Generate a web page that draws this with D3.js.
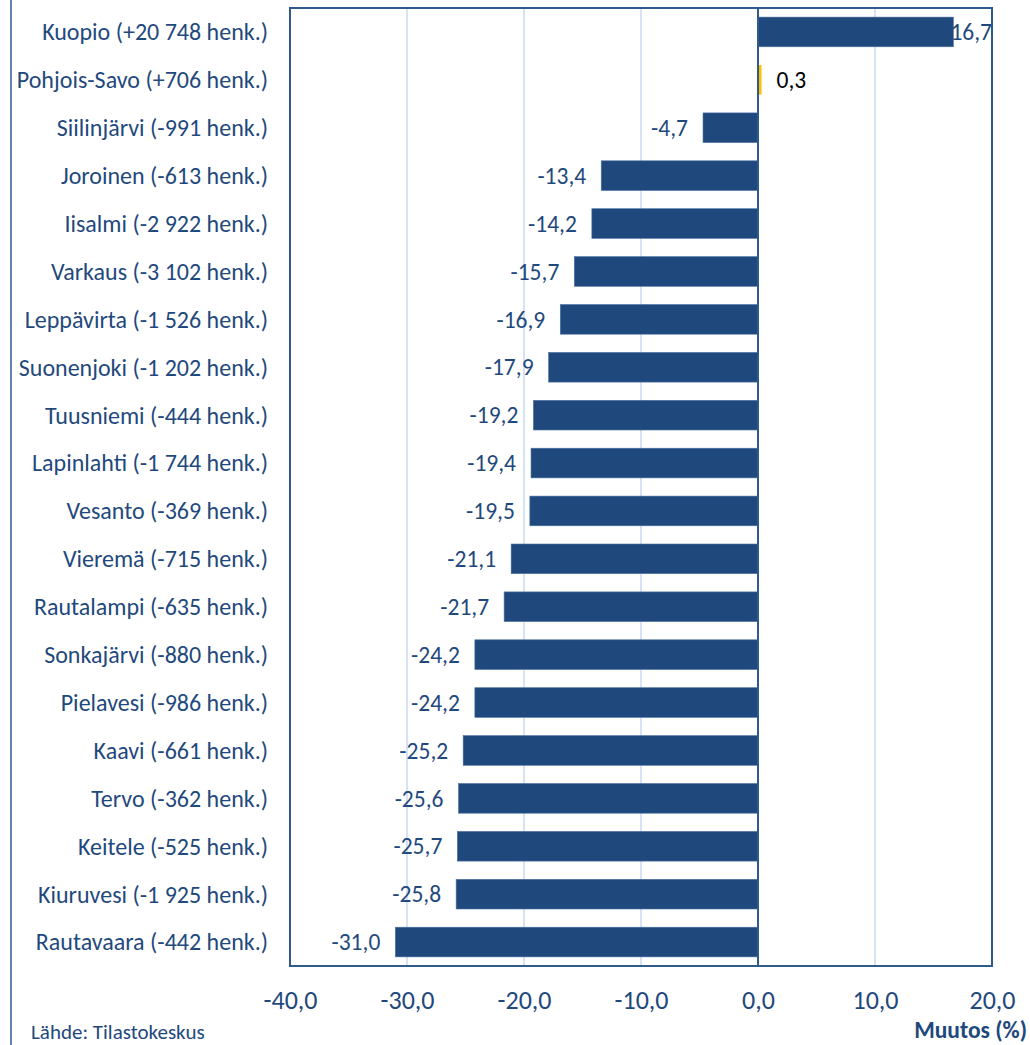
<!DOCTYPE html>
<html><head><meta charset="utf-8">
<script src="https://cdn.jsdelivr.net/npm/d3@7"></script>
<style>body{margin:0;background:#fff}svg{display:block}text{font-family:Carlito,Lato,"Open Sans",sans-serif}</style>
</head><body>
<svg id="c" width="1030" height="1045"></svg>
<script>
const categories = ["Kuopio (+20 748 henk.)","Pohjois-Savo (+706 henk.)","Siilinjärvi (-991 henk.)","Joroinen (-613 henk.)","Iisalmi (-2 922 henk.)","Varkaus (-3 102 henk.)","Leppävirta (-1 526 henk.)","Suonenjoki (-1 202 henk.)","Tuusniemi (-444 henk.)","Lapinlahti (-1 744 henk.)","Vesanto (-369 henk.)","Vieremä (-715 henk.)","Rautalampi (-635 henk.)","Sonkajärvi (-880 henk.)","Pielavesi (-986 henk.)","Kaavi (-661 henk.)","Tervo (-362 henk.)","Keitele (-525 henk.)","Kiuruvesi (-1 925 henk.)","Rautavaara (-442 henk.)"];
const values = [16.7,0.3,-4.7,-13.4,-14.2,-15.7,-16.9,-17.9,-19.2,-19.4,-19.5,-21.1,-21.7,-24.2,-24.2,-25.2,-25.6,-25.7,-25.8,-31.0];
const highlight = ["Pohjois-Savo (+706 henk.)"];
const xTicks = [-40,-30,-20,-10,0,10,20];
const xTitle = "Muutos (%)";
const source = "Lähde: Tilastokeskus";

const svg = d3.select("#c");
const L=290, R=992, T=8, B=966;
const blue="#1f497d", frame="#2f5a8e", grid="#c9daf0", gold="#ffc000";
const fmt = v => d3.format(".1f")(v).replace(".",",").replace("−","-");

const x = d3.scaleLinear().domain([-40,20]).range([L,R]);
const y = d3.scaleBand().domain(categories).range([T,B]).paddingInner(0.38).paddingOuter(0.19);

// outer left line
svg.append("line").attr("x1",11).attr("x2",11).attr("y1",0).attr("y2",1045).attr("stroke",frame).attr("stroke-width",1.5);

// gridlines
svg.append("g").selectAll("line").data(xTicks.filter(d=>d!==0 && d!==-40 && d!==20)).join("line")
  .attr("x1",d=>x(d)).attr("x2",d=>x(d)).attr("y1",T).attr("y2",B).attr("stroke",grid).attr("stroke-width",1.5);

// bars
svg.append("g").selectAll("rect").data(categories).join("rect")
  .attr("x",(d,i)=>Math.min(x(0),x(values[i])))
  .attr("width",(d,i)=>Math.abs(x(values[i])-x(0)))
  .attr("y",d=>y(d)).attr("height",y.bandwidth())
  .attr("fill",d=>highlight.includes(d)?gold:blue)
  .attr("stroke",d=>highlight.includes(d)?"none":"#4f74a3").attr("stroke-width",0.6);

// zero line
svg.append("line").attr("x1",x(0)).attr("x2",x(0)).attr("y1",T).attr("y2",B).attr("stroke",frame).attr("stroke-width",2);

// frame
svg.append("rect").attr("x",L).attr("y",T).attr("width",R-L).attr("height",B-T).attr("fill","none").attr("stroke",frame).attr("stroke-width",2);

// value labels
const vl = svg.append("g").selectAll("text").data(categories).join("text")
  .attr("y",d=>y(d)+y.bandwidth()/2).attr("dy","0.35em")
  .attr("font-size",23.5)
  .attr("fill",d=>highlight.includes(d)?"#000":blue)
  .text((d,i)=>fmt(values[i]));
vl.each(function(d,i){
  const t=d3.select(this), v=values[i];
  if(v<0){ t.attr("x",x(v)-15).attr("text-anchor","end"); }
  else { const w=this.getComputedTextLength(); t.attr("x",Math.min(x(v)+15,R-w)).attr("text-anchor","start"); }
});

// category labels
svg.append("g").selectAll("text").data(categories).join("text")
  .attr("x",268).attr("y",d=>y(d)+y.bandwidth()/2).attr("dy","0.35em")
  .attr("text-anchor","end").attr("font-size",24).attr("fill",blue).text(d=>d);

// x axis
const ax = svg.append("g").attr("transform",`translate(0,${B})`)
  .call(d3.axisBottom(x).tickValues(xTicks).tickSize(0).tickPadding(25).tickFormat(fmt));
ax.select(".domain").remove();
ax.selectAll("text").attr("font-size",26).attr("fill",blue).attr("font-family","Carlito,Lato,sans-serif");

svg.append("text").attr("x",1027).attr("y",1038).attr("text-anchor","end").attr("font-size",23.5).attr("font-weight","bold").attr("fill",blue).text(xTitle);
svg.append("text").attr("x",31).attr("y",1039).attr("font-size",21).attr("fill",blue).text(source);
</script>
</body></html>
